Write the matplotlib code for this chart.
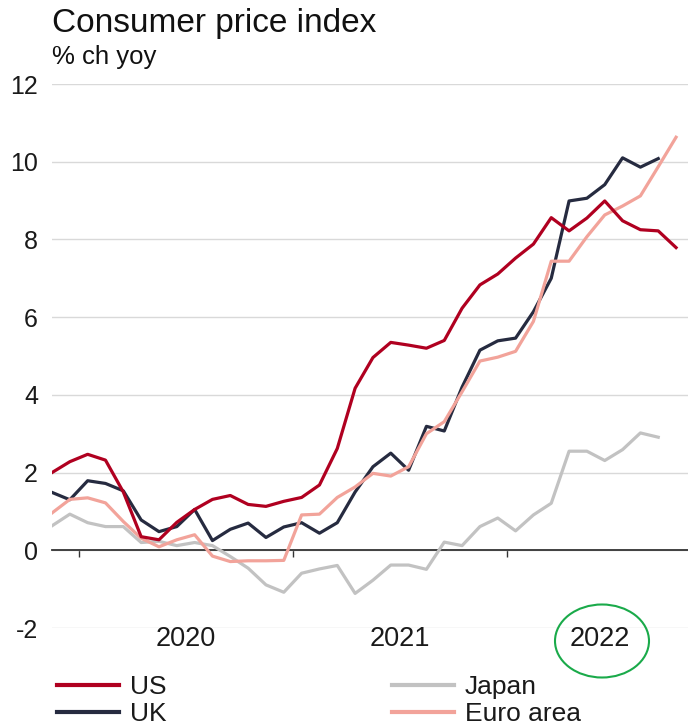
import numpy as np
from matplotlib import pyplot as plt
from matplotlib.patches import Ellipse

# monthly CPI, % ch yoy, Nov 2019 onwards (one value per month, plotted mid-month)
us = [2.0, 2.28, 2.47, 2.32, 1.5, 0.35, 0.27, 0.72, 1.05, 1.31, 1.41, 1.18, 1.13, 1.26, 1.36, 1.68,
      2.62, 4.17, 4.96, 5.35, 5.28, 5.2, 5.4, 6.23, 6.83, 7.11, 7.52, 7.88, 8.56, 8.22, 8.55, 8.99,
      8.48, 8.25, 8.22, 7.79]
uk = [1.49, 1.3, 1.79, 1.72, 1.53, 0.78, 0.48, 0.61, 1.05, 0.25, 0.54, 0.7, 0.33, 0.6, 0.71, 0.44,
      0.71, 1.5, 2.15, 2.5, 2.06, 3.19, 3.07, 4.2, 5.15, 5.39, 5.46, 6.14, 7.0, 8.99, 9.06, 9.41,
      10.1, 9.86, 10.08]
japan = [0.63, 0.93, 0.71, 0.61, 0.61, 0.2, 0.23, 0.12, 0.2, 0.12, -0.16, -0.46, -0.89, -1.08, -0.59,
         -0.48, -0.39, -1.11, -0.77, -0.38, -0.38, -0.49, 0.21, 0.12, 0.61, 0.83, 0.5, 0.91, 1.21,
         2.55, 2.55, 2.31, 2.59, 3.02, 2.91]
euro = [0.96, 1.31, 1.35, 1.22, 0.74, 0.31, 0.09, 0.27, 0.4, -0.15, -0.29, -0.27, -0.27, -0.26, 0.91,
        0.93, 1.36, 1.63, 1.98, 1.91, 2.15, 3.0, 3.31, 4.08, 4.87, 4.97, 5.12, 5.89, 7.44, 7.44, 8.07,
        8.63, 8.86, 9.12, 9.87, 10.63]
years = ["2020", "2021", "2022"]
yticks = [-2, 0, 2, 4, 6, 8, 10, 12]

plt.rcParams['font.family'] = ['Liberation Sans', 'DejaVu Sans']

fig = plt.figure(figsize=(6.88, 7.26), dpi=100)
ax = fig.add_axes([52 / 688, 1 - 628 / 726, 636 / 688, 544 / 726])

# year boundaries sit half a month before each January point
year_starts = [1.5, 13.5, 25.5]
year_mids = [7.5, 19.5, 30.7]

l_us, = ax.plot(np.arange(len(us)), us, color="#b00020", lw=2.3, label="US", zorder=4)
l_uk, = ax.plot(np.arange(len(uk)), uk, color="#262b40", lw=2.3, label="UK", zorder=3)
l_jp, = ax.plot(np.arange(len(japan)), japan, color="#c2c2c2", lw=2.3, label="Japan", zorder=2)
l_eu, = ax.plot(np.arange(len(euro)), euro, color="#f2a39a", lw=2.3, label="Euro area", zorder=3)

ax.set_xlim(0, 35.67)
ax.set_ylim(-2, 12)
ax.set_yticks(yticks)
ax.set_yticklabels([str(v) for v in yticks])
ax.grid(axis="y", color="#d9d9d9", lw=1)
ax.set_axisbelow(True)
for s in ["top", "right", "left"]:
    ax.spines[s].set_visible(False)
ax.spines["bottom"].set_position(("data", 0))
ax.spines["bottom"].set_color("#333333")
ax.spines["bottom"].set_linewidth(1.3)
ax.spines["bottom"].set_zorder(1)
ax.set_xticks(year_starts)
ax.set_xticklabels([])
ax.tick_params(axis="x", direction="out", length=5, width=1, color="#333333")
ax.tick_params(axis="y", length=0, pad=10, labelsize=18, labelcolor="#1a1a1a")

for x, yr in zip(year_mids, years):
    ax.text(x, -2.28, yr, ha="center", va="center", fontsize=19.5, color="#1a1a1a")

fig.text(52 / 688, 1 - 32 / 726, "Consumer price index", fontsize=24, color="#111111", va="baseline")
fig.text(52 / 688, 1 - 64 / 726, "% ch yoy", fontsize=18.5, color="#111111", va="baseline")

leg_kw = dict(frameon=False, fontsize=19, handlelength=2.35, handletextpad=0.42,
              labelspacing=0.12, borderpad=0, borderaxespad=0, loc="upper left")
leg1 = fig.legend([l_us, l_uk], ["US", "UK"], bbox_to_anchor=(57 / 688, 1 - 675 / 726), **leg_kw)
leg2 = fig.legend([l_jp, l_eu], ["Japan", "Euro area"], bbox_to_anchor=(392 / 688, 1 - 675 / 726), **leg_kw)
for leg in (leg1, leg2):
    for t in leg.get_texts():
        t.set_color("#1a1a1a")
    for h in leg.get_lines():
        h.set_linewidth(3)

# green circle around the 2022 label
fig.patches.append(Ellipse((602 / 688, 1 - 641 / 726), 94 / 688, 73 / 726, transform=fig.transFigure,
                           fill=False, edgecolor="#1aaa4a", lw=1.5))

plt.savefig("out.png", dpi=100)
